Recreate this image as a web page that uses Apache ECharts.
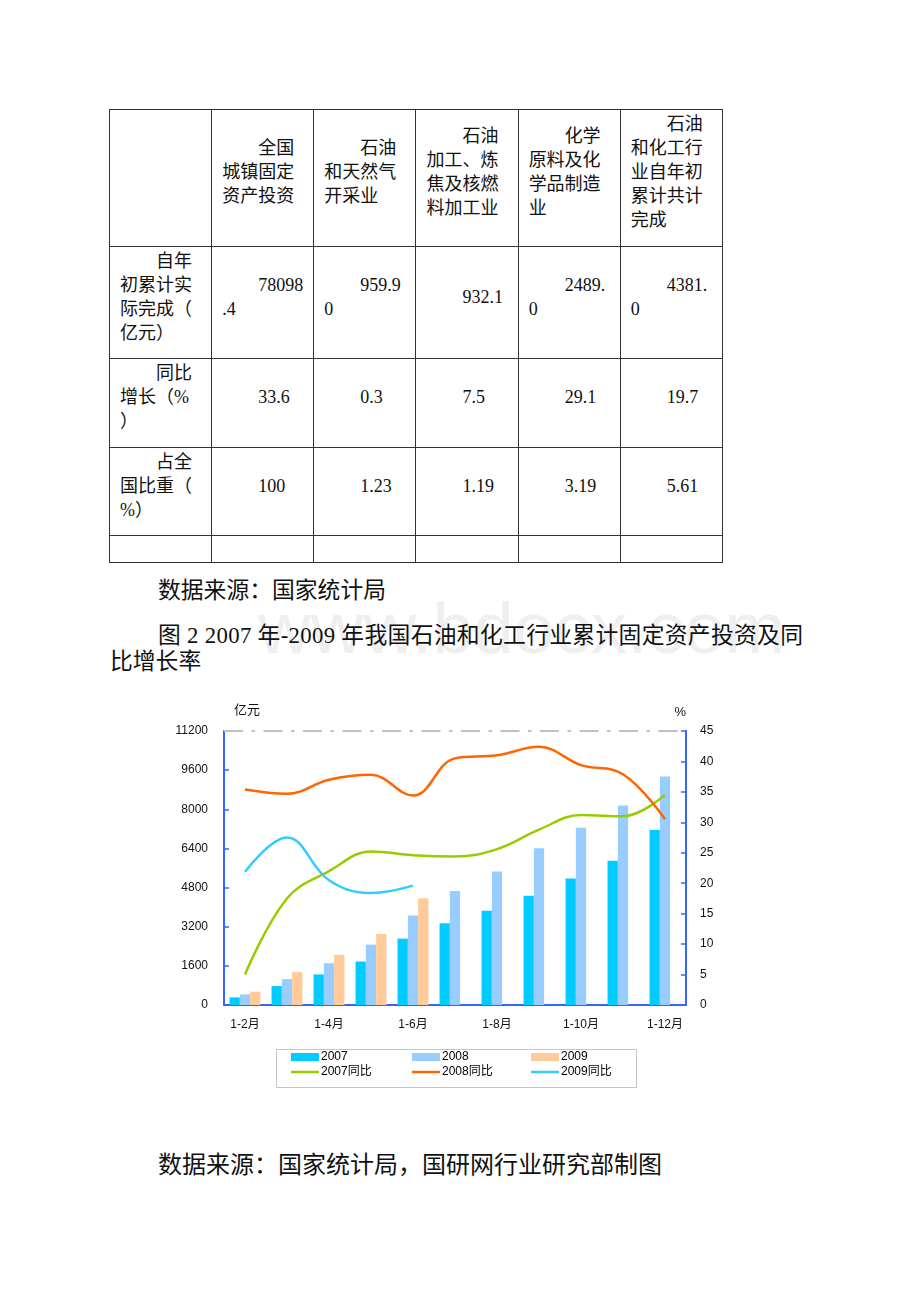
<!DOCTYPE html>
<html>
<head>
<meta charset="utf-8">
<script src="https://cdn.jsdelivr.net/npm/echarts@6/dist/echarts.min.js"></script>
<style>
  html, body { margin:0; padding:0; background:#fff; }
  body { width:920px; height:1302px; position:relative; overflow:hidden;
         font-family:'Liberation Serif','Noto Sans CJK SC',serif; color:#111; }
  #tbl { position:absolute; left:109px; top:109px; border-collapse:collapse; table-layout:fixed; width:614px; }
  #tbl td { border:1px solid #333; width:102px; padding:0 2px 12px 10px; vertical-align:middle;
            font-size:18px; line-height:24px; white-space:nowrap; text-indent:2em; box-sizing:border-box; }
  #tbl tr.last td { padding:0; line-height:0; font-size:0; }
  .txt { position:absolute; white-space:nowrap; font-size:22.8px; line-height:26px; }
  #wm { position:absolute; left:258px; top:588px; font-family:'Liberation Sans',sans-serif; font-size:73px;
        color:#efefef; white-space:nowrap; line-height:80px; }
  #chart { position:absolute; left:0; top:680px; width:920px; height:430px; }
</style>
</head>
<body>
<div id="wm">www.bdocx.com</div>
<table id="tbl">
  <tr style="height:137px">
    <td></td>
    <td>全国<br>城镇固定<br>资产投资</td>
    <td>石油<br>和天然气<br>开采业</td>
    <td>石油<br>加工、炼<br>焦及核燃<br>料加工业</td>
    <td>化学<br>原料及化<br>学品制造<br>业</td>
    <td>石油<br>和化工行<br>业自年初<br>累计共计<br>完成</td>
  </tr>
  <tr style="height:112px">
    <td>自年<br>初累计实<br>际完成（<br>亿元）</td>
    <td>78098<br>.4</td>
    <td>959.9<br>0</td>
    <td>932.1</td>
    <td>2489.<br>0</td>
    <td>4381.<br>0</td>
  </tr>
  <tr style="height:89px">
    <td>同比<br>增长（%<br>）</td>
    <td>33.6</td>
    <td>0.3</td>
    <td>7.5</td>
    <td>29.1</td>
    <td>19.7</td>
  </tr>
  <tr style="height:88px">
    <td>占全<br>国比重（<br>%）</td>
    <td>100</td>
    <td>1.23</td>
    <td>1.19</td>
    <td>3.19</td>
    <td>5.61</td>
  </tr>
  <tr class="last" style="height:27px">
    <td></td><td></td><td></td><td></td><td></td><td></td>
  </tr>
</table>
<div class="txt" style="left:158px; top:578px;">数据来源：国家统计局</div>
<div class="txt" style="left:158px; top:623px; letter-spacing:0.3px;">图 2 2007 年-2009 年我国石油和化工行业累计固定资产投资及同</div>
<div class="txt" style="left:110px; top:649px;">比增长率</div>
<div id="chart"></div>
<div class="txt" style="left:158px; top:1152px; font-size:24px;">数据来源：国家统计局，国研网行业研究部制图</div>

<script>
const categories = ['1-2月','1-3月','1-4月','1-5月','1-6月','1-7月','1-8月','1-9月','1-10月','1-11月','1-12月'];
const invest2007 = [312, 773, 1250, 1778, 2712, 3340, 3855, 4470, 5170, 5895, 7155];
const invest2008 = [434, 1058, 1708, 2468, 3662, 4655, 5460, 6410, 7250, 8155, 9345];
const invest2009 = [542, 1342, 2048, 2904, 4368];
const growth2007 = [5.0, 17.5, 22.0, 25.2, 24.6, 24.4, 25.6, 28.8, 31.2, 31.0, 34.5];
const growth2008 = [35.4, 34.7, 37.0, 37.8, 34.4, 40.5, 41.0, 42.4, 39.4, 37.9, 30.5];
const growth2009 = [21.9, 27.5, 20.5, 18.4, 19.6];
const leftTicks = [0, 1600, 3200, 4800, 6400, 8000, 9600, 11200];
const rightTicks = [0, 5, 10, 15, 20, 25, 30, 35, 40, 45];

const FONT = "'Liberation Sans','Noto Sans CJK SC',sans-serif";
const AXIS_BLUE = '#3366FF';
const LINE_ICON = 'path://M0,0 L28,0 L28,2.5 L0,2.5 Z';
const chart = echarts.init(document.getElementById('chart'));

const legendBase = {
  orient: 'vertical', top: 371, itemWidth: 28, itemHeight: 8, itemGap: 3,
  selectedMode: false, padding: 0,
  textStyle: { fontFamily: FONT, fontSize: 12, color: '#000', padding: [0, 0, 0, -3] }
};

chart.setOption({
  animation: false,
  textStyle: { fontFamily: FONT },
  grid: { left: 224, right: 234, top: 51, bottom: 105 },
  legend: [
    Object.assign({}, legendBase, { left: 291, data: [{ name: '2007', icon: 'rect' }, { name: '2007同比', icon: LINE_ICON }] }),
    Object.assign({}, legendBase, { left: 412, data: [{ name: '2008', icon: 'rect' }, { name: '2008同比', icon: LINE_ICON }] }),
    Object.assign({}, legendBase, { left: 531, data: [{ name: '2009', icon: 'rect' }, { name: '2009同比', icon: LINE_ICON }] })
  ],
  graphic: [{
    type: 'rect', left: 274, top: 367, silent: true,
    shape: { width: 360, height: 38 },
    style: { fill: 'none', stroke: '#c4c4c4', lineWidth: 1 }
  }],
  xAxis: {
    type: 'category', data: categories, boundaryGap: true,
    axisLine: { lineStyle: { color: AXIS_BLUE, width: 2 } },
    axisTick: { inside: true, length: 4, interval: 0, lineStyle: { color: AXIS_BLUE, width: 1.5 } },
    axisLabel: { interval: 1, color: '#111', fontSize: 12, margin: 14, fontFamily: FONT }
  },
  yAxis: [{
    type: 'value', min: leftTicks[0], max: leftTicks[leftTicks.length - 1], interval: 1600,
    name: '亿元', nameLocation: 'end', nameGap: 14,
    nameTextStyle: { color: '#111', fontSize: 13, align: 'left', padding: [0, 0, 0, 10], fontFamily: FONT },
    axisLine: { show: true, lineStyle: { color: AXIS_BLUE, width: 2 } },
    axisTick: { show: true, inside: true, length: 5, lineStyle: { color: AXIS_BLUE, width: 1.5 } },
    axisLabel: { color: '#111', fontSize: 12, margin: 16, fontFamily: FONT, formatter: v => String(v) },
    splitLine: { show: false }
  }, {
    type: 'value', min: rightTicks[0], max: rightTicks[rightTicks.length - 1], interval: 5,
    name: '%', nameLocation: 'end', nameGap: 12,
    nameTextStyle: { color: '#111', fontSize: 13, align: 'right', fontFamily: FONT },
    axisLine: { show: true, lineStyle: { color: AXIS_BLUE, width: 2 } },
    axisTick: { show: true, inside: true, length: 5, lineStyle: { color: AXIS_BLUE, width: 1.5 } },
    axisLabel: { color: '#111', fontSize: 12, margin: 14, fontFamily: FONT, formatter: v => String(v) },
    splitLine: { show: false }
  }],
  series: [
    { name: '2007', type: 'bar', data: invest2007, barWidth: 10.3, barGap: '0%',
      itemStyle: { color: '#00CCFF' },
      markLine: { silent: true, symbol: 'none', label: { show: false },
        lineStyle: { color: '#c0c0c0', width: 2, type: [19, 8.5, 3.5, 8.5] },
        data: [{ yAxis: 11200 }] } },
    { name: '2008', type: 'bar', data: invest2008, barWidth: 10.3, barGap: '0%',
      itemStyle: { color: '#99CCFF' } },
    { name: '2009', type: 'bar', data: invest2009, barWidth: 10.3, barGap: '0%',
      itemStyle: { color: '#FFCC99' } },
    { name: '2007同比', type: 'line', yAxisIndex: 1, data: growth2007, smooth: 0.4,
      symbol: 'none', lineStyle: { color: '#99CC00', width: 2.5 }, itemStyle: { color: '#99CC00' } },
    { name: '2008同比', type: 'line', yAxisIndex: 1, data: growth2008, smooth: 0.4,
      symbol: 'none', lineStyle: { color: '#FF6600', width: 2.5 }, itemStyle: { color: '#FF6600' } },
    { name: '2009同比', type: 'line', yAxisIndex: 1, data: growth2009, smooth: 0.4,
      symbol: 'none', lineStyle: { color: '#33CCFF', width: 2.5 }, itemStyle: { color: '#33CCFF' } }
  ]
});
</script>
</body>
</html>
